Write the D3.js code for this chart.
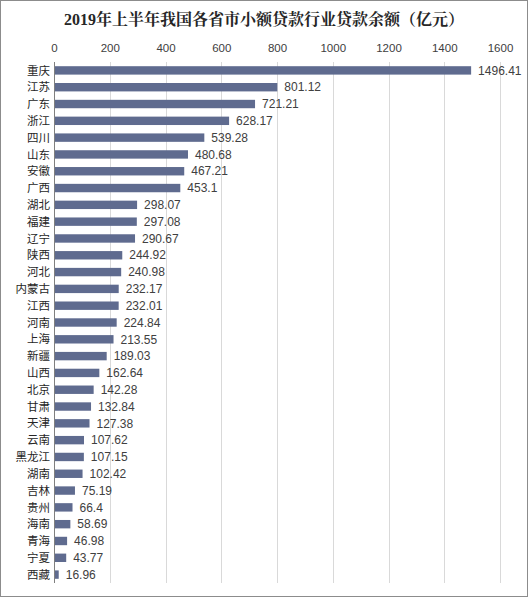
<!DOCTYPE html>
<html>
<head>
<meta charset="utf-8">
<script src="https://cdn.jsdelivr.net/npm/d3@7"></script>
<style>
  body { margin: 0; background: #fff; }
  svg text { font-family: "Liberation Sans", Arial, "Noto Sans CJK SC", sans-serif; }
</style>
</head>
<body>
<div id="chart"></div>
<script>
// provinces, top to bottom
let provinces = ["重庆", "江苏", "广东", "浙江", "四川", "山东", "安徽", "广西", "湖北", "福建",
    "辽宁", "陕西", "河北", "内蒙古", "江西", "河南", "上海", "新疆", "山西", "北京",
    "甘肃", "天津", "云南", "黑龙江", "湖南", "吉林", "贵州", "海南", "青海", "宁夏", "西藏"];
let loanBalance = [1496.41, 801.12, 721.21, 628.17, 539.28, 480.68, 467.21, 453.1, 298.07, 297.08,
    290.67, 244.92, 240.98, 232.17, 232.01, 224.84, 213.55, 189.03, 162.64, 142.28,
    132.84, 127.38, 107.62, 107.15, 102.42, 75.19, 66.4, 58.69, 46.98, 43.77, 16.96];
let xTicks = [0, 200, 400, 600, 800, 1000, 1200, 1400, 1600];

let data = provinces.map((p, i) => ({name: p, value: loanBalance[i]}));

let width = 528, height = 597;
let margin = {top: 62, right: 28, bottom: 14, left: 54};

let svg = d3.select("#chart").append("svg")
    .attr("width", width)
    .attr("height", height);

// frame
svg.append("rect")
    .attr("x", 0.5).attr("y", 0.5)
    .attr("width", width - 1).attr("height", height - 1)
    .attr("fill", "#fff")
    .attr("stroke", "#8c8c8c");

let x = d3.scaleLinear()
    .domain([0, 1600])
    .range([margin.left, width - margin.right]);

let y = d3.scaleBand()
    .domain(provinces)
    .range([margin.top, height - margin.bottom])
    .paddingInner(0.5)
    .paddingOuter(0.25);

// gridlines
svg.append("g")
    .selectAll("line")
    .data(xTicks.slice(1))
    .enter().append("line")
    .attr("x1", d => Math.round(x(d)) + 0.5)
    .attr("x2", d => Math.round(x(d)) + 0.5)
    .attr("y1", margin.top)
    .attr("y2", height - margin.bottom)
    .attr("stroke", "#d9d9d9");

// top axis labels
let xAxis = svg.append("g")
    .attr("transform", `translate(0, ${margin.top})`)
    .call(d3.axisTop(x).tickValues(xTicks).tickFormat(d3.format("d")).tickSize(0).tickPadding(10));
xAxis.select(".domain").remove();
xAxis.selectAll("text")
    .attr("font-size", 11.5)
    .attr("fill", "#404040")
    .style("font-family", "'Liberation Sans', Arial, sans-serif");

// bars
svg.append("g")
    .selectAll("rect")
    .data(data)
    .enter().append("rect")
    .attr("x", x(0))
    .attr("y", d => y(d.name))
    .attr("width", d => x(d.value) - x(0))
    .attr("height", y.bandwidth())
    .attr("fill", "#5f6b8f");

// value labels
svg.append("g")
    .selectAll("text")
    .data(data)
    .enter().append("text")
    .attr("x", d => x(d.value) + 7)
    .attr("y", d => y(d.name) + y.bandwidth() / 2)
    .attr("dy", "0.35em")
    .attr("font-size", 12)
    .attr("fill", "#404040")
    .text(d => d.value);

// category axis
svg.append("line")
    .attr("x1", x(0) + 0.5).attr("x2", x(0) + 0.5)
    .attr("y1", margin.top).attr("y2", height - margin.bottom)
    .attr("stroke", "#7f7f7f");

svg.append("g")
    .selectAll("text")
    .data(data)
    .enter().append("text")
    .attr("x", x(0) - 4)
    .attr("y", d => y(d.name) + y.bandwidth() / 2)
    .attr("dy", "0.36em")
    .attr("text-anchor", "end")
    .attr("font-size", 11.5)
    .attr("fill", "#262626")
    .style("font-family", "'Noto Sans CJK SC', sans-serif")
    .text(d => d.name);

// title
svg.append("text")
    .attr("x", width / 2)
    .attr("y", 25)
    .attr("text-anchor", "middle")
    .attr("font-size", 16)
    .attr("font-weight", "bold")
    .attr("fill", "#262626")
    .style("font-family", "'Liberation Serif', 'Noto Serif CJK SC', 'Noto Sans CJK SC', serif")
    .text("2019年上半年我国各省市小额贷款行业贷款余额（亿元）");
</script>
</body>
</html>
